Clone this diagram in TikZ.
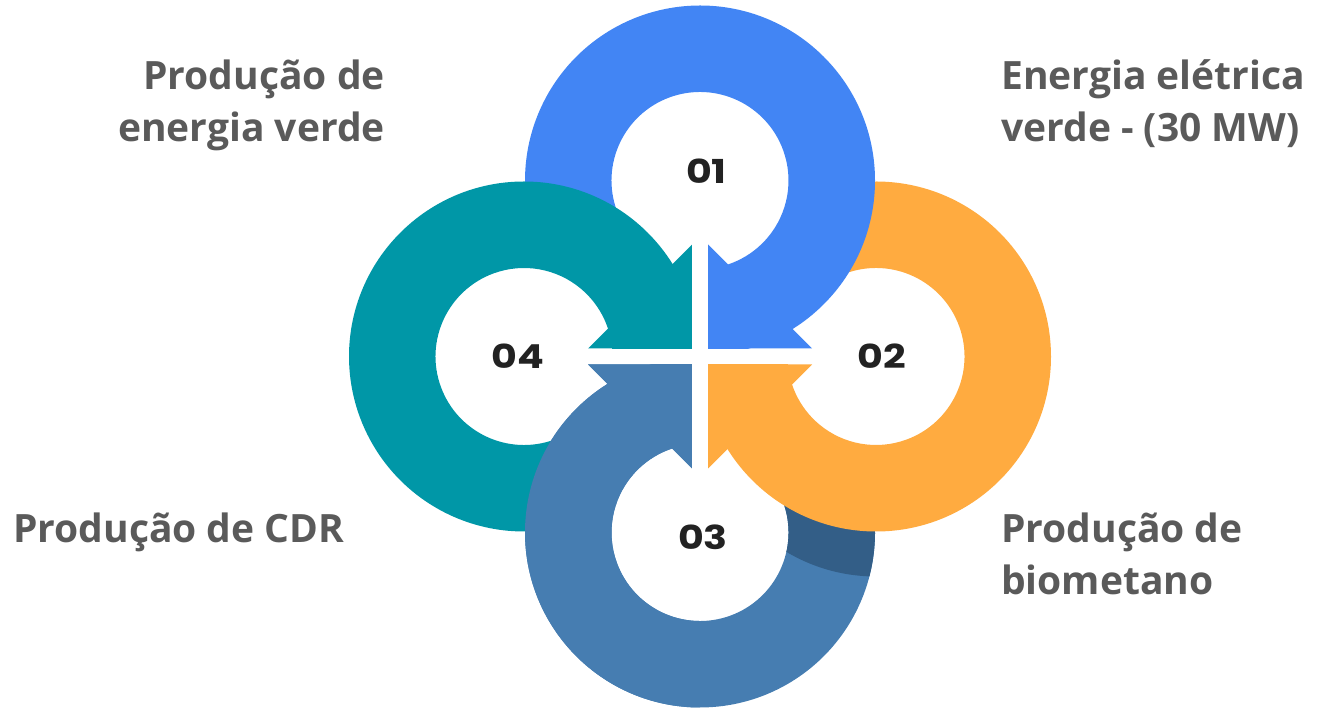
\documentclass[tikz,border=0pt]{standalone}
\usepackage{fontspec}
\setmainfont{Open Sans}
\newfontfamily\numfont{Poppins}[FakeStretch=1.2]
\definecolor{ringblue}{HTML}{4285F4}
\definecolor{ringorange}{HTML}{FFAB40}
\definecolor{ringteal}{HTML}{0097A7}
\definecolor{ringsteel}{HTML}{467DB1}
\definecolor{ringshadow}{HTML}{335E87}
\definecolor{labelgray}{HTML}{5A5A5A}
\definecolor{numdark}{HTML}{222222}
\newcommand\ringtri{(8,8) -- (112,8) -- (8,112) -- cycle}
\newcommand\ringarc{(0,1) arc[start angle=-90,end angle=200,radius=175] -- ++(20:86.5) arc[start angle=200,end angle=-90,radius=88.5] -- cycle}
\begin{document}
\begin{tikzpicture}[x=1pt,y=1pt,
  lbl/.style={font=\fontsize{39}{46}\selectfont\bfseries, text=labelgray, inner sep=0pt},
  num/.style={font=\numfont\fontsize{33}{38}\selectfont\bfseries, text=numdark, inner sep=0pt, anchor=base}]
\useasboundingbox (0,0) rectangle (1317,709);
\coordinate (P) at (700,352.5);
\begin{scope}[shift={(P)}]
  % steel ring (bottom) with shadow of orange ring
  \begin{scope}[rotate=180]
    \fill[ringsteel] \ringtri;
    \fill[ringsteel] \ringarc;
    \begin{scope}
      \clip \ringarc;
      \fill[ringshadow] (-176,45) circle[radius=175];
    \end{scope}
  \end{scope}
  % orange ring (right)
  \begin{scope}[rotate=-90]
    \fill[ringorange] \ringtri;
    \fill[ringorange] \ringarc;
  \end{scope}
  % blue ring (top)
  \fill[ringblue] \ringtri;
  \fill[ringblue] \ringarc;
  % teal ring (left)
  \begin{scope}[rotate=90]
    \fill[ringteal] \ringtri;
    \fill[ringteal] \ringarc;
  \end{scope}
  % steel ring again over teal
  \begin{scope}
    \clip (-400,-400) rectangle (0,30);
    \begin{scope}[rotate=180]
      \fill[ringsteel] \ringtri;
      \fill[ringsteel] \ringarc;
    \end{scope}
  \end{scope}
  % white cross gap
  \fill[white] (-114,-7.5) rectangle (114,7.5);
  \fill[white] (-8,-114) rectangle (8,114);
\end{scope}
% numbers
\node[num] (n1) at (706.5,525.7) {01};
\node[num] (n2) at (882,340.7) {02};
\node[num] (n3) at (703,159.7) {03};
\node[num] (n4) at (518,340.7) {04};
% labels
\node[lbl, anchor=base east] (l1a) at (385,619) {Produção de};
\node[lbl, anchor=base east] (l1b) at (385,567) {energia verde};
\node[lbl, anchor=base west] (l2a) at (1001,619) {Energia elétrica};
\node[lbl, anchor=base west] (l2b) at (1001,567) {verde - (30 MW)};
\node[lbl, anchor=base west] (l3) at (13,166) {Produção de CDR};
\node[lbl, anchor=base west] (l4a) at (1001,166) {Produção de};
\node[lbl, anchor=base west] (l4b) at (1001,114) {biometano};
\end{tikzpicture}
\end{document}
